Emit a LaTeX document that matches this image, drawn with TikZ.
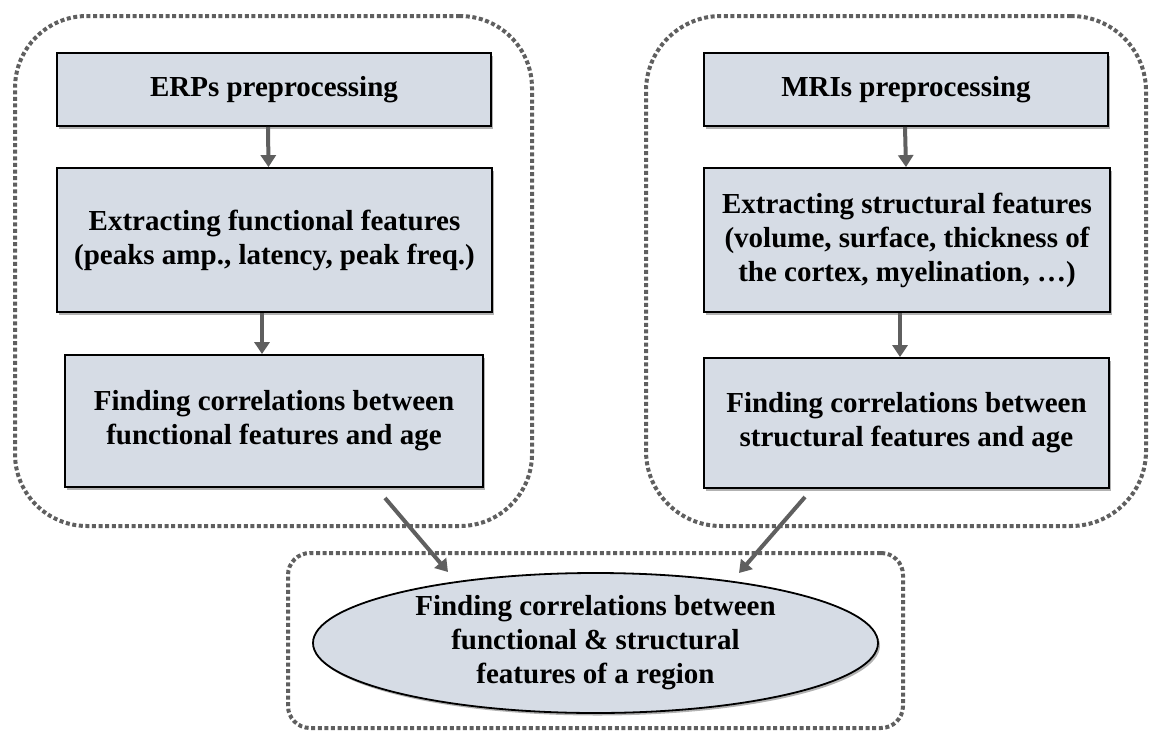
\documentclass[tikz,border=0pt]{standalone}
\usepackage{fontspec}
\setmainfont{Liberation Serif}
\usetikzlibrary{arrows.meta,shapes.geometric,shadows}
\definecolor{boxfill}{RGB}{214,220,229}
\definecolor{dotgray}{RGB}{95,95,95}
\definecolor{arrgray}{RGB}{95,95,95}
\begin{document}
\begin{tikzpicture}[x=1pt,y=-1pt,
  stepbox/.style={draw=black, line width=1.8pt, fill=boxfill, align=center, inner sep=0pt,
    font=\fontsize{29}{34}\selectfont\bfseries,
    drop shadow={shadow xshift=2pt, shadow yshift=-2.5pt, opacity=0.3, fill=black}},
  ellbox/.style={stepbox, ellipse},
  group/.style={draw=dotgray, line width=4pt, dash pattern=on 4pt off 2.6pt, inner sep=0pt},
  arr/.style={draw=arrgray, line width=4pt, -{Triangle[length=12pt,width=15pt]}, arrgray}
]
\useasboundingbox (0,0) rectangle (1151,731);
% dotted group frames
\node[group, rounded corners=72pt, minimum width=517pt, minimum height=510pt] (lgroup) at (273.5,271) {};
\node[group, rounded corners=75pt, minimum width=500pt, minimum height=510pt] (rgroup) at (896,271) {};
\node[group, rounded corners=22pt, minimum width=615pt, minimum height=175pt] (bgroup) at (595.5,640.5) {};
% left column
\node[stepbox, minimum width=434pt, minimum height=73pt] (l1) at (274,89.5) {ERPs preprocessing};
\node[stepbox, minimum width=435pt, minimum height=144pt] (l2) at (274.5,240) {Extracting functional features\\(peaks amp., latency, peak freq.)};
\node[stepbox, minimum width=418pt, minimum height=132pt] (l3) at (274,421) {Finding correlations between\\functional features and age};
% right column
\node[stepbox, minimum width=404pt, minimum height=73pt] (r1) at (906,89.5) {MRIs preprocessing};
\node[stepbox, minimum width=406pt, minimum height=144pt] (r2) at (907,240) {Extracting structural features\\(volume, surface, thickness of\\the cortex, myelination, \ldots)};
\node[stepbox, minimum width=405pt, minimum height=130pt] (r3) at (906.5,423) {Finding correlations between\\structural features and age};
% final ellipse
\node[ellbox, minimum width=565pt, minimum height=140pt] (fin) at (595.5,643) {Finding correlations between\\functional \& structural\\features of a region};
% connectors
\draw[arr] ([xshift=-6pt]l1.south) -- ([xshift=-6pt]l2.north);
\draw[arr] ([xshift=-12.5pt]l2.south) -- ([xshift=-12pt]l3.north);
\draw[arr] ([xshift=-1pt]r1.south) -- ([xshift=-1pt]r2.north);
\draw[arr] ([xshift=-7pt]r2.south) -- ([xshift=-6.5pt]r3.north);
\coordinate (ls) at (385,498);
\coordinate (le) at (448,572);
\coordinate (rs) at (805,497);
\coordinate (re) at (739,573);
\draw[arr] (ls) -- (le);
\draw[arr] (rs) -- (re);
\end{tikzpicture}
\end{document}
